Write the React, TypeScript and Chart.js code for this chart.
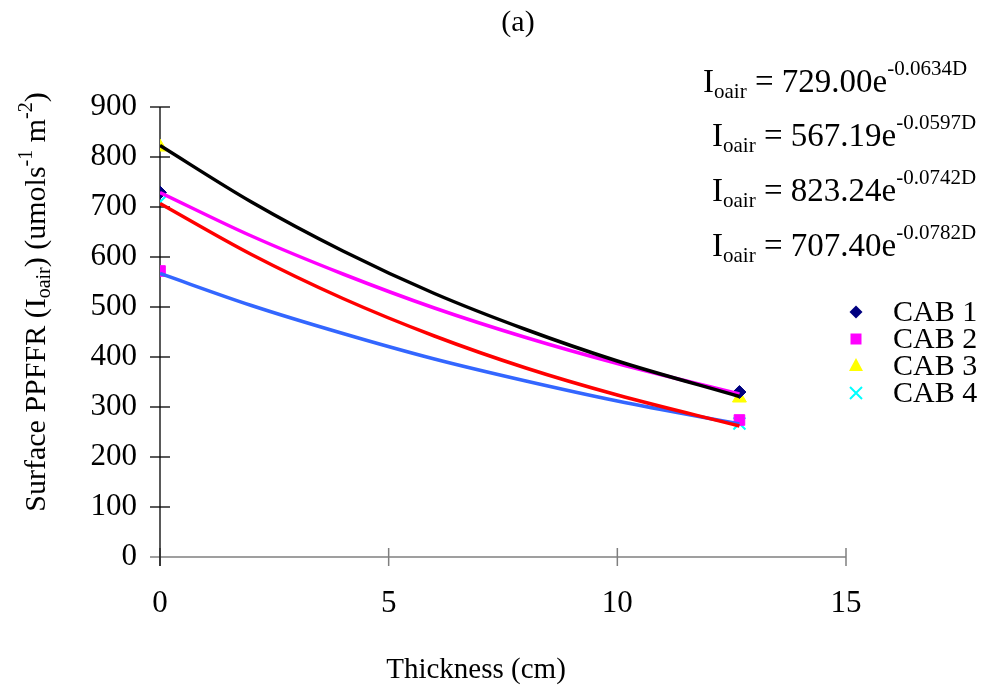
import React, { useEffect, useRef } from "react";
import { Chart, registerables } from "chart.js";

Chart.register(...registerables);

const FONT = '"Liberation Serif", "Times New Roman", serif';

// ---- data ----
const xTickValues = [0, 5, 10, 15];
const yTickValues = [0, 100, 200, 300, 400, 500, 600, 700, 800, 900];
const seriesNames = ["CAB 1", "CAB 2", "CAB 3", "CAB 4"];
const markerX = [0, 12.67];
const cab1 = [729, 330];
const cab2 = [572, 274];
const cab3 = [820, 318];
const cab4 = [710, 267];
const trendX = [0, 2, 4, 6, 8, 10, 12.67];
const trendBlack = [823, 710, 612, 527, 455, 392, 321];
const trendMagenta = [729, 642, 566, 498, 439, 387, 326];
const trendRed = [707, 605, 517, 442, 378, 324, 262];
const trendBlue = [567, 503, 447, 396, 352, 312, 266];
const eqCoef = ["729.00", "567.19", "823.24", "707.40"];
const eqExp = ["-0.0634D", "-0.0597D", "-0.0742D", "-0.0782D"];
const titleText = "(a)";
const xTitle = "Thickness (cm)";

type Run = { t: string; size: number; dy: number };

function runsWidth(ctx: CanvasRenderingContext2D, runs: Run[]) {
  let w = 0;
  for (const r of runs) {
    ctx.font = `${r.size}px ${FONT}`;
    w += ctx.measureText(r.t).width;
  }
  return w;
}

function drawRuns(ctx: CanvasRenderingContext2D, runs: Run[], x: number, y: number) {
  let cx = x;
  for (const r of runs) {
    ctx.font = `${r.size}px ${FONT}`;
    ctx.fillText(r.t, cx, y + r.dy);
    cx += ctx.measureText(r.t).width;
  }
}

const markerStyles = [
  { style: "diamond", color: "#000080" },
  { style: "square", color: "#FF00FF" },
  { style: "triangle", color: "#FFFF00" },
  { style: "x", color: "#00FFFF" },
];

function drawMarker(ctx: CanvasRenderingContext2D, style: string, color: string, x: number, y: number) {
  ctx.save();
  ctx.fillStyle = color;
  ctx.strokeStyle = color;
  ctx.beginPath();
  if (style === "diamond") {
    ctx.moveTo(x, y - 6.5);
    ctx.lineTo(x + 6.5, y);
    ctx.lineTo(x, y + 6.5);
    ctx.lineTo(x - 6.5, y);
    ctx.closePath();
    ctx.fill();
  } else if (style === "square") {
    ctx.rect(x - 5.5, y - 5.5, 11, 11);
    ctx.fill();
  } else if (style === "triangle") {
    ctx.moveTo(x, y - 8);
    ctx.lineTo(x + 7, y + 5);
    ctx.lineTo(x - 7, y + 5);
    ctx.closePath();
    ctx.fill();
  } else {
    ctx.lineWidth = 2;
    ctx.moveTo(x - 6, y - 6);
    ctx.lineTo(x + 6, y + 6);
    ctx.moveTo(x + 6, y - 6);
    ctx.lineTo(x - 6, y + 6);
    ctx.stroke();
  }
  ctx.restore();
}

const axesPlugin = {
  id: "customAxes",
  beforeDatasetsDraw(chart: any) {
    const ctx = chart.ctx as CanvasRenderingContext2D;
    const xs = chart.scales.x;
    const ys = chart.scales.y;
    const left = xs.getPixelForValue(0);
    const bottom = ys.getPixelForValue(0);
    ctx.save();
    // x axis (grey)
    ctx.strokeStyle = "#7f7f7f";
    ctx.lineWidth = 1.5;
    ctx.beginPath();
    ctx.moveTo(left - 10, bottom);
    ctx.lineTo(xs.getPixelForValue(15), bottom);
    ctx.stroke();
    for (const v of xTickValues) {
      const px = xs.getPixelForValue(v);
      ctx.beginPath();
      ctx.moveTo(px, bottom - 9);
      ctx.lineTo(px, bottom + 9);
      ctx.stroke();
    }
    // y axis (black)
    ctx.strokeStyle = "#000";
    ctx.lineWidth = 1.3;
    ctx.beginPath();
    ctx.moveTo(left, ys.getPixelForValue(900));
    ctx.lineTo(left, bottom + 9);
    ctx.stroke();
    for (const v of yTickValues) {
      if (v === 0) continue;
      const py = ys.getPixelForValue(v);
      ctx.beginPath();
      ctx.moveTo(left - 10, py);
      ctx.lineTo(left + 10, py);
      ctx.stroke();
    }
    ctx.restore();
  },
  afterDraw(chart: any) {
    const ctx = chart.ctx as CanvasRenderingContext2D;
    ctx.save();
    ctx.fillStyle = "#000";
    ctx.textBaseline = "alphabetic";
    ctx.textAlign = "left";

    // title
    ctx.font = `30px ${FONT}`;
    ctx.textAlign = "center";
    ctx.fillText(titleText, 518, 31);

    // x title
    ctx.font = `29px ${FONT}`;
    ctx.fillText(xTitle, 476, 678);
    ctx.textAlign = "left";

    // y title rotated
    const yRuns: Run[] = [
      { t: "Surface PPFFR (I", size: 30, dy: 0 },
      { t: "oair", size: 20, dy: 5 },
      { t: ") (umols", size: 30, dy: 0 },
      { t: "-1", size: 20, dy: -13 },
      { t: " m", size: 30, dy: 0 },
      { t: "-2", size: 20, dy: -13 },
      { t: ")", size: 30, dy: 0 },
    ];
    const yw = runsWidth(ctx, yRuns);
    ctx.save();
    ctx.translate(45, 302);
    ctx.rotate(-Math.PI / 2);
    drawRuns(ctx, yRuns, -yw / 2, 0);
    ctx.restore();

    // equations
    const eqX = [703, 712, 712, 712];
    const eqY = [92, 146, 201, 256];
    for (let i = 0; i < eqCoef.length; i++) {
      const runs: Run[] = [
        { t: "I", size: 33, dy: 0 },
        { t: "oair", size: 21, dy: 6 },
        { t: " = " + eqCoef[i] + "e", size: 33, dy: 0 },
        { t: eqExp[i], size: 21, dy: -17 },
      ];
      drawRuns(ctx, runs, eqX[i], eqY[i]);
    }

    // legend
    const legY = [312, 339, 366, 393];
    ctx.textBaseline = "middle";
    for (let i = 0; i < seriesNames.length; i++) {
      drawMarker(ctx, markerStyles[i].style, markerStyles[i].color, 856, legY[i]);
      ctx.fillStyle = "#000";
      ctx.font = `30px ${FONT}`;
      ctx.fillText(seriesNames[i], 893, legY[i] + 1);
    }
    ctx.restore();
  },
};

function pts(xs: number[], ys: number[]) {
  return xs.map((x, i) => ({ x, y: ys[i] }));
}

export default function App() {
  const ref = useRef<HTMLCanvasElement>(null);
  useEffect(() => {
    document.body.style.margin = "0";
    const lineDs = (vals: number[], color: string) => ({
      data: pts(trendX, vals),
      showLine: true,
      borderColor: color,
      backgroundColor: color,
      borderWidth: 3.5,
      pointRadius: 0,
      cubicInterpolationMode: "monotone" as const,
      order: 0,
    });
    const markDs = (label: string, vals: number[], style: any, color: string, r: number, bw = 1) => ({
      label,
      data: pts(markerX, vals),
      showLine: false,
      pointStyle: style,
      pointRadius: r,
      backgroundColor: color,
      borderColor: color,
      borderWidth: bw,
      order: 1,
    });
    const chart = new Chart(ref.current!, {
      type: "scatter",
      data: {
        datasets: [
          lineDs(trendBlack, "#000000"),
          lineDs(trendMagenta, "#FF00FF"),
          lineDs(trendRed, "#FF0000"),
          lineDs(trendBlue, "#3366FF"),
          markDs(seriesNames[0], cab1, "rectRot", "#000080", 6.5),
          markDs(seriesNames[1], cab2, "rect", "#FF00FF", 7.5),
          markDs(seriesNames[2], cab3, "triangle", "#FFFF00", 8),
          markDs(seriesNames[3], cab4, "crossRot", "#00FFFF", 8.5, 2),
        ] as any,
      },
      options: {
        animation: false,
        responsive: false,
        devicePixelRatio: 1,
        layout: { padding: { top: 107, right: 135, left: 0, bottom: 0 } },
        plugins: { legend: { display: false }, tooltip: { enabled: false }, title: { display: false } },
        scales: {
          x: {
            type: "linear",
            min: 0,
            max: 15,
            ticks: { stepSize: 5, color: "#000", font: { family: FONT, size: 31 }, padding: 28, maxRotation: 0 },
            grid: { display: false, drawTicks: false },
            border: { display: false },
            afterFit: (s: any) => {
              s.height = 131;
            },
          },
          y: {
            type: "linear",
            min: 0,
            max: 900,
            ticks: { stepSize: 100, color: "#000", font: { family: FONT, size: 31 }, padding: 23 },
            grid: { display: false, drawTicks: false },
            border: { display: false },
            afterFit: (s: any) => {
              s.width = 160;
            },
          },
        },
      },
      plugins: [axesPlugin],
    });
    return () => chart.destroy();
  }, []);
  return (
    <div style={{ width: 981, height: 688, position: "relative" }}>
      <canvas ref={ref} width={981} height={688} style={{ display: "block", width: 981, height: 688 }} />
    </div>
  );
}
